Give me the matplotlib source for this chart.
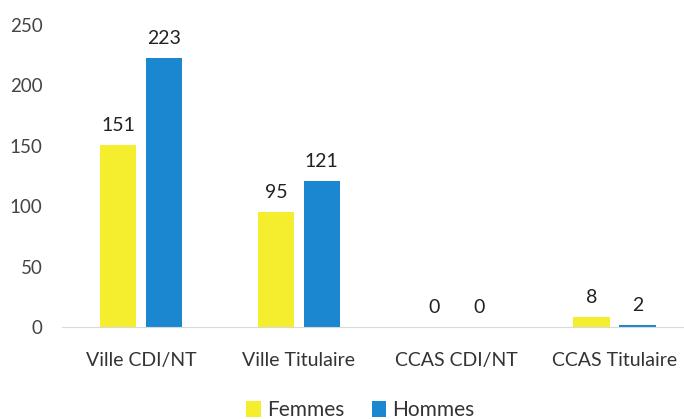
import matplotlib.pyplot as plt
import numpy as np

categories = ["Ville CDI/NT", "Ville Titulaire", "CCAS CDI/NT", "CCAS Titulaire"]
femmes = [151, 95, 0, 8]
hommes = [223, 121, 0, 2]

yellow = "#F5EE2E"
blue = "#1B87D0"

plt.rcParams['font.family'] = ['Lato', 'DejaVu Sans']

fig = plt.figure(figsize=(6.84, 4.19), dpi=100)
ax = fig.add_axes([62 / 684, 92 / 419, 1 - 62 / 684, 302 / 419])

x = np.arange(len(categories))
w = 0.23
off = 0.145
b1 = ax.bar(x - off, femmes, w, color=yellow, label="Femmes")
b2 = ax.bar(x + off, hommes, w, color=blue, label="Hommes")

for bars, vals in ((b1, femmes), (b2, hommes)):
    for rect, v in zip(bars, vals):
        ax.text(rect.get_x() + rect.get_width() / 2, v + 9, str(v),
                ha="center", va="bottom", fontsize=14, color="#222222")

ax.set_xlim(-0.5, 3.44)
ax.set_ylim(0, 250)
ax.set_yticks([0, 50, 100, 150, 200, 250])
ax.set_xticks(x)
ax.set_xticklabels(categories, fontsize=14, color="#333333")
ax.tick_params(axis="y", labelsize=13.5, labelcolor="#444444", length=0, pad=14)
ax.tick_params(axis="x", length=0, pad=18)
for s in ["top", "right", "left"]:
    ax.spines[s].set_visible(False)
ax.spines["bottom"].set_color("#d9d9d9")

fig.legend(handles=[b1, b2], loc="center", bbox_to_anchor=(0.527, 0.022),
           ncol=2, frameon=False, fontsize=15, handlelength=0.7, handleheight=0.8,
           handletextpad=0.3, columnspacing=1.3, labelcolor="#333333")

fig.savefig("out.png", dpi=100)
